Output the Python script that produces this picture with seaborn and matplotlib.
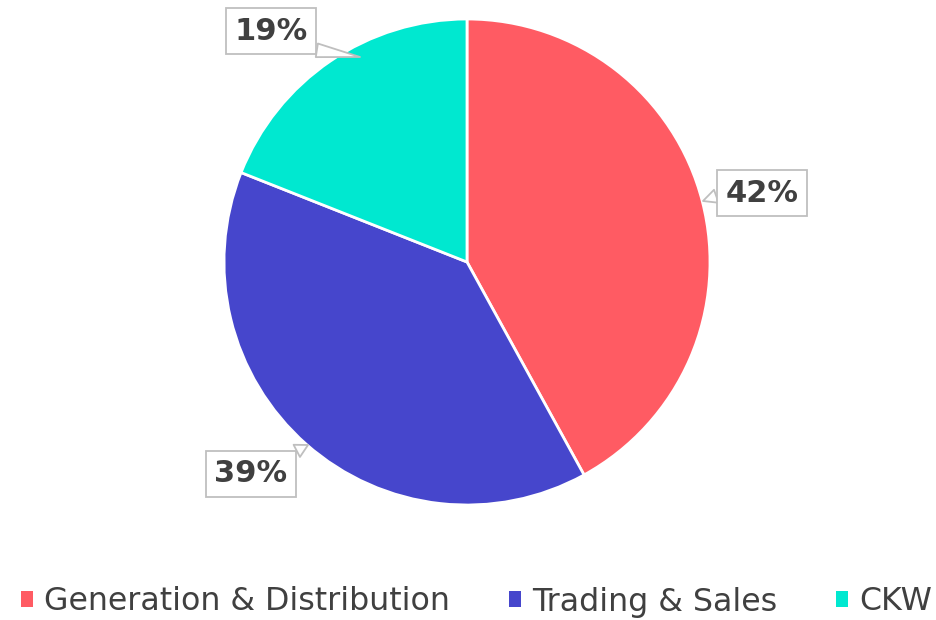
import matplotlib
matplotlib.use("Agg")
import matplotlib.pyplot as plt
import seaborn as sns
from matplotlib.patches import Patch

sns.set_theme(style="white")
plt.rcParams['font.family'] = ['DejaVu Sans']

categories = ["Generation & Distribution", "Trading & Sales", "CKW"]
values = [42, 39, 19]
labels = ["42%", "39%", "19%"]
colors = ["#FF5B63", "#4646CC", "#00E8D0"]

W, H = 936, 620
fig = plt.figure(figsize=(W / 100, H / 100), dpi=100)
cx, cy, r = 467, 262, 243
ax = fig.add_axes([(cx - r) / W, (H - cy - r) / H, 2 * r / W, 2 * r / H])
wedges, _ = ax.pie(values, colors=colors, startangle=90, counterclock=False,
                   radius=1, wedgeprops=dict(edgecolor="white", linewidth=2))
ax.set_xlim(-1, 1)
ax.set_ylim(-1, 1)
ax.set_aspect("equal")
ax.axis("off")

def px(x, y):
    return ((x - cx) / r, (cy - y) / r)

# label positions (text center), pointer tip on pie edge, pointer base on box
label_pos = [(762, 193), (251, 474), (271, 31)]
tips = [(703, 201), (308, 445), (360, 57)]
relpos = [(0.0, 0.5), (0.9, 1.0), (0.7, 0.0)]
for lab, (tx, ty), (ex, ey), rp in zip(labels, label_pos, tips, relpos):
    ax.annotate(lab, xy=px(ex, ey), xytext=px(tx, ty), textcoords="data",
                ha="center", va="center", fontsize=22, fontweight="bold",
                color="#404040", annotation_clip=False,
                bbox=dict(boxstyle="square,pad=0.28", fc="white", ec="#BFBFBF", lw=1.3),
                arrowprops=dict(arrowstyle="wedge,tail_width=0.45", fc="white",
                                ec="#BFBFBF", lw=1.3, shrinkA=0, shrinkB=0,
                                relpos=rp))

handles = [Patch(facecolor=c, edgecolor="none") for c in colors]
leg = fig.legend(handles, categories, loc="center", bbox_to_anchor=(476.5 / W, (H - 602) / H),
                 ncol=3, frameon=False, handlelength=0.38, fontsize=22.8,
                 handleheight=0.38, handletextpad=0.35, columnspacing=1.86,
                 borderaxespad=0, borderpad=0)
for t in leg.get_texts():
    t.set_color("#404040")

fig.savefig("out.png", dpi=100)
